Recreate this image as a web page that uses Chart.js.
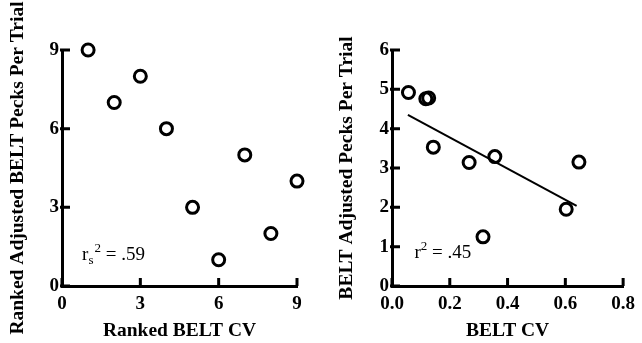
<!DOCTYPE html>
<html>
<head>
<meta charset="utf-8">
<script src="https://cdn.jsdelivr.net/npm/chart.js@4"></script>
<style>
  body { margin: 0; background: #fff; }
  canvas { position: absolute; top: 0; }
  #rankChart { left: 0; }
  #cvChart { left: 321px; }
</style>
</head>
<body>
<canvas id="rankChart" width="321" height="343"></canvas>
<canvas id="cvChart" width="321" height="343"></canvas>
<script>
// left panel: ranks
const rankCV = [1, 2, 3, 4, 5, 6, 7, 8, 9];
const rankPecks = [9, 7, 8, 6, 3, 1, 5, 2, 4];

// right panel: raw values
const beltCV = [0.057, 0.117, 0.127, 0.143, 0.267, 0.315, 0.356, 0.603, 0.647];
const beltPecks = [4.92, 4.76, 4.78, 3.53, 3.14, 1.25, 3.29, 1.95, 3.15];

// regression line end points
const fitX = [0.055, 0.639];
const fitY = [4.35, 2.04];

const serif = '"Liberation Serif", "Times New Roman", serif';

// r² label and inward tick marks
const notePlugin = {
    id: 'note',
    afterDatasetsDraw(chart, args, opts) {
        const ctx = chart.ctx;
        const xs = chart.scales.x, ys = chart.scales.y;
        const area = chart.chartArea;

        ctx.save();
        ctx.strokeStyle = '#000';
        ctx.lineWidth = 3;
        ctx.beginPath();
        xs.ticks.forEach(t => {
            const p = xs.getPixelForValue(t.value);
            ctx.moveTo(p, area.bottom);
            ctx.lineTo(p, area.bottom - 8);
        });
        ys.ticks.forEach(t => {
            const p = ys.getPixelForValue(t.value);
            ctx.moveTo(area.left - 2, p);
            ctx.lineTo(area.left + 8, p);
        });
        ctx.stroke();

        let px = xs.getPixelForValue(opts.x);
        const py = ys.getPixelForValue(opts.y);
        ctx.fillStyle = '#000';
        ctx.textAlign = 'left';
        ctx.textBaseline = 'alphabetic';
        ctx.font = '19px ' + serif;
        ctx.fillText('r', px, py);
        px += ctx.measureText('r').width;
        ctx.font = '13px ' + serif;
        if (opts.sub) {
            ctx.fillText(opts.sub, px, py + 4);
            px += ctx.measureText(opts.sub).width + 1;
        }
        ctx.fillText('2', px, py - 8);
        px += ctx.measureText('2').width;
        ctx.font = '19px ' + serif;
        ctx.fillText(' = ' + opts.text, px, py);
        ctx.restore();
    }
};

function axis(min, max, step, title, fit, fmt) {
    return {
        min: min,
        max: max,
        border: { display: true, color: '#000', width: 3 },
        grid: { display: false, drawTicks: false },
        ticks: {
            stepSize: step,
            color: '#000',
            padding: fit.pad,
            font: { family: serif, size: 19, weight: 'bold' },
            callback: fmt
        },
        title: {
            display: true,
            text: title,
            color: '#000',
            padding: fit.titlePad,
            font: { family: serif, size: 19.5, weight: 'bold' }
        },
        afterFit(scale) {
            if (fit.w) scale.width = fit.w;
            if (fit.h) scale.height = fit.h;
        }
    };
}

function pointSet(xs, ys) {
    return {
        type: 'scatter',
        data: xs.map((v, i) => ({ x: v, y: ys[i] })),
        clip: false,
        pointRadius: 6,
        pointHoverRadius: 6,
        borderWidth: 3,
        borderColor: '#000',
        backgroundColor: 'rgba(255,255,255,0)'
    };
}

new Chart(document.getElementById('rankChart'), {
    type: 'scatter',
    data: { datasets: [pointSet(rankCV, rankPecks)] },
    options: {
        responsive: false,
        animation: false,
        layout: { padding: { top: 50, right: 24, left: 0, bottom: 0 } },
        plugins: {
            legend: { display: false },
            tooltip: { enabled: false },
            note: { x: 0.77, y: 0.99, sub: 's', text: '.59' }
        },
        scales: {
            x: axis(0, 9, 3, 'Ranked BELT CV', { h: 57, pad: 7, titlePad: { top: 6, bottom: 0 } }),
            y: axis(0, 9, 3, 'Ranked Adjusted BELT Pecks Per Trial', { w: 62, pad: 3, titlePad: { top: 6, bottom: 0 } })
        }
    },
    plugins: [notePlugin]
});

new Chart(document.getElementById('cvChart'), {
    type: 'scatter',
    data: {
        datasets: [
            pointSet(beltCV, beltPecks),
            {
                type: 'line',
                data: fitX.map((v, i) => ({ x: v, y: fitY[i] })),
                borderColor: '#000',
                borderWidth: 2,
                pointRadius: 0,
                fill: false
            }
        ]
    },
    options: {
        responsive: false,
        animation: false,
        layout: { padding: { top: 50, right: 12, left: 0, bottom: 0 } },
        plugins: {
            legend: { display: false },
            tooltip: { enabled: false },
            note: { x: 0.078, y: 0.7, text: '.45' }
        },
        scales: {
            x: axis(0, 0.8, 0.2, 'BELT CV', { h: 57, pad: 7, titlePad: { top: 6, bottom: 0 } }, v => v.toFixed(1)),
            y: axis(0, 6, 1, 'BELT Adjusted Pecks Per Trial', { w: 71, pad: 3, titlePad: { top: 14, bottom: 0 } })
        }
    },
    plugins: [notePlugin]
});
</script>
</body>
</html>
